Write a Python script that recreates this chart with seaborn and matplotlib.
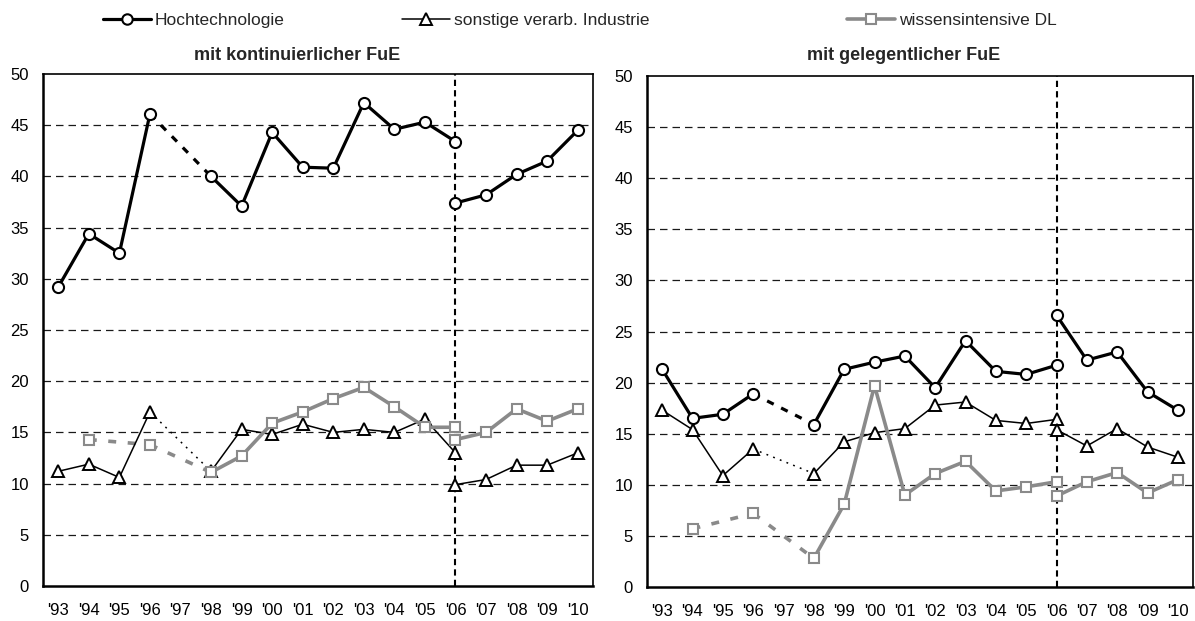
import numpy as np
import matplotlib
matplotlib.use("Agg")
import matplotlib.pyplot as plt
import seaborn as sns
from matplotlib.lines import Line2D

nan = np.nan

jahre = ["'93", "'94", "'95", "'96", "'97", "'98", "'99", "'00", "'01",
         "'02", "'03", "'04", "'05", "'06", "'07", "'08", "'09", "'10"]

# Panel 1: mit kontinuierlicher FuE  (alte Reihe '93-'06, neue Reihe '06-'10)
kont_hoch_alt = [29.2, 34.4, 32.5, 46.1, nan, 40.0, 37.1, 44.3, 40.9, 40.8, 47.2, 44.6, 45.3, 43.4]
kont_hoch_neu = [37.4, 38.2, 40.2, 41.5, 44.5]
kont_sonst_alt = [11.2, 11.9, 10.6, 17.0, nan, 11.2, 15.3, 14.8, 15.8, 15.0, 15.3, 15.0, 16.3, 13.0]
kont_sonst_neu = [9.9, 10.4, 11.8, 11.8, 13.0]
kont_dl_alt = [nan, 14.3, nan, 13.8, nan, 11.1, 12.7, 15.9, 17.0, 18.3, 19.4, 17.5, 15.5, 15.5]
kont_dl_neu = [14.3, 15.0, 17.3, 16.1, 17.3]

# Panel 2: mit gelegentlicher FuE
gel_hoch_alt = [21.3, 16.5, 16.9, 18.9, nan, 15.9, 21.3, 22.0, 22.6, 19.5, 24.1, 21.1, 20.8, 21.7]
gel_hoch_neu = [26.6, 22.2, 23.0, 19.1, 17.3]
gel_sonst_alt = [17.3, 15.4, 10.9, 13.5, nan, 11.1, 14.2, 15.1, 15.5, 17.8, 18.1, 16.3, 16.0, 16.4]
gel_sonst_neu = [15.4, 13.8, 15.5, 13.7, 12.7]
gel_dl_alt = [nan, 5.7, nan, 7.2, nan, 2.8, 8.1, 19.7, 9.0, 11.1, 12.3, 9.4, 9.8, 10.3]
gel_dl_neu = [8.9, 10.3, 11.2, 9.2, 10.5]

serien_namen = ["Hochtechnologie", "sonstige verarb. Industrie", "wissensintensive DL"]
titel = ["mit kontinuierlicher FuE", "mit gelegentlicher FuE"]

sns.set_theme(style="white")
plt.rcParams["font.family"] = ["Liberation Sans", "DejaVu Sans"]

GRAU = "#8a8a8a"
stile = {
    "hoch": dict(color="black", lw=2.3, marker="o", ms=8, mfc="white", mec="black", mew=1.5,
                 conn=dict(lw=2.3, ls=(0, (2.3, 2.6)), color="black")),
    "sonst": dict(color="black", lw=1.1, marker="^", ms=8.5, mfc="white", mec="black", mew=1.4,
                  conn=dict(lw=1.1, ls=(0, (1.2, 3.5)), color="black")),
    "dl": dict(color=GRAU, lw=2.6, marker="s", ms=7, mfc="white", mec=GRAU, mew=1.5,
               conn=dict(lw=2.6, ls=(0, (2.2, 3.2)), color=GRAU)),
}


def zeichne(ax, werte, x0, st):
    y = np.array(werte, dtype=float)
    x = np.arange(len(y)) + x0
    ok = ~np.isnan(y)
    # durchgehende Abschnitte
    laeufe, akt = [], []
    for i in range(len(y)):
        if ok[i]:
            akt.append(i)
        elif akt:
            laeufe.append(akt)
            akt = []
    if akt:
        laeufe.append(akt)
    for lauf in laeufe:
        sns.lineplot(x=x[lauf], y=y[lauf], ax=ax, color=st["color"], lw=st["lw"],
                     marker=st["marker"], markersize=st["ms"], markerfacecolor=st["mfc"],
                     markeredgecolor=st["mec"], markeredgewidth=st["mew"],
                     errorbar=None, legend=False, zorder=4)
    # gestrichelte Verbindungen über Lücken
    gueltig = np.where(ok)[0]
    for a, b in zip(gueltig[:-1], gueltig[1:]):
        if b - a > 1:
            c = st["conn"]
            sns.lineplot(x=[x[a], x[b]], y=[y[a], y[b]], ax=ax, color=c["color"], lw=c["lw"],
                         linestyle=c["ls"], errorbar=None, legend=False, zorder=3)


fig = plt.figure(figsize=(11.95, 6.21), dpi=100)
ax1 = fig.add_axes([43 / 1195, 35 / 621, 550 / 1195, 512 / 621])
ax2 = fig.add_axes([647 / 1195, 34 / 621, 546 / 1195, 511 / 621])

daten = [
    [(kont_hoch_alt, kont_hoch_neu, "hoch"), (kont_sonst_alt, kont_sonst_neu, "sonst"),
     (kont_dl_alt, kont_dl_neu, "dl")],
    [(gel_hoch_alt, gel_hoch_neu, "hoch"), (gel_sonst_alt, gel_sonst_neu, "sonst"),
     (gel_dl_alt, gel_dl_neu, "dl")],
]

for ax, panel in zip([ax1, ax2], daten):
    for alt, neu, key in panel:
        zeichne(ax, alt, 0, stile[key])
        zeichne(ax, neu, jahre.index("'06"), stile[key])
    ax.set_xlim(-0.5, len(jahre) - 0.5)
    ax.set_ylim(0, 50)
    ax.set_yticks(range(0, 51, 5))
    ax.set_xticks(range(len(jahre)))
    ax.set_xticklabels(jahre)
    ax.set_xlabel("")
    ax.set_ylabel("")
    ax.tick_params(axis="both", length=0, labelsize=12, colors="black")
    ax.tick_params(axis="x", pad=12)
    ax.tick_params(axis="y", pad=10)
    for yv in range(5, 50, 5):
        ax.axhline(yv, color="#1a1a1a", lw=0.9, ls=(0, (6, 4)), zorder=1)
    ax.axvline(jahre.index("'06"), color="black", lw=1.5, ls=(0, (3, 2)), zorder=2)
    for s in ["left", "bottom"]:
        ax.spines[s].set_linewidth(1.8)
        ax.spines[s].set_color("black")
    for s in ["top", "right"]:
        ax.spines[s].set_linewidth(1.2)
        ax.spines[s].set_color("black")
    ax.grid(False)

fig.text(297 / 1195, 1 - 55 / 621, titel[0], ha="center", va="center",
         fontsize=13, fontweight="bold")
fig.text(904 / 1195, 1 - 55 / 621, titel[1], ha="center", va="center",
         fontsize=13, fontweight="bold")

# Legende
leg_x = [103, 402, 847]
for name, key, lx in zip(serien_namen, ["hoch", "sonst", "dl"], leg_x):
    st = stile[key]
    h = Line2D([], [], color=st["color"], lw=st["lw"], marker=st["marker"], markersize=st["ms"] - 0.5,
               markerfacecolor=st["mfc"], markeredgecolor=st["mec"], markeredgewidth=st["mew"])
    fig.legend(handles=[h], labels=[name], loc="center left",
               bbox_to_anchor=(lx / 1195, 1 - 20 / 621), frameon=False, fontsize=12.5,
               borderpad=0, borderaxespad=0, handlelength=2.75, handletextpad=0.25)

fig.savefig("out.png", dpi=100, facecolor="white")
